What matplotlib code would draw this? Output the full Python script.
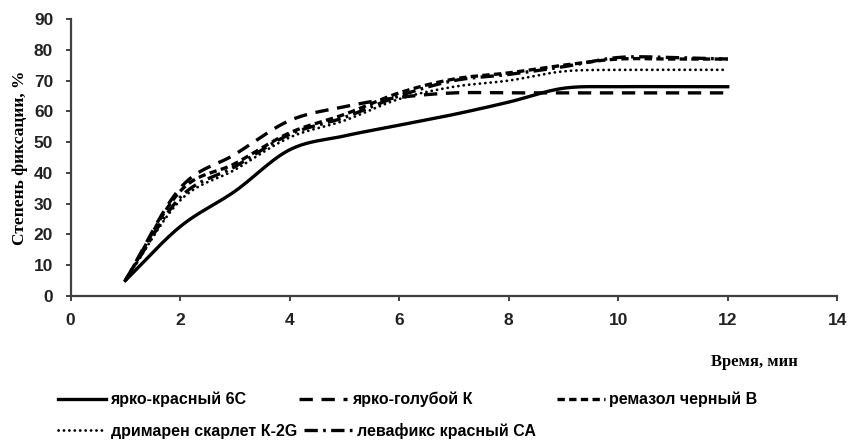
import numpy as np
import matplotlib
matplotlib.use("Agg")
import matplotlib.pyplot as plt
from matplotlib.lines import Line2D

# Time, min
minutes = [1, 2, 3, 4, 5, 6, 7, 8, 9, 10, 11, 12]

# Degree of fixation, % for each dye
yarko_krasny_6s = [5, 22.5, 34, 47.5, 52, 55.5, 59, 63, 67.5, 68, 68, 68]
yarko_goluboy_k = [5, 35, 46, 57, 61.5, 64.5, 66, 66, 66, 66, 66, 66]
remazol_cherny_v = [5, 34, 43, 53, 59, 66, 70.5, 72.5, 75, 77, 77, 77]
drimaren_skarlet = [5, 31, 41, 51.5, 57, 64, 68, 70, 73, 73.5, 73.5, 73.5]
levafiks_krasny = [5, 32, 42, 52.5, 58, 65, 70, 72, 74.5, 77.5, 77.5, 77]

series_labels = ["ярко-красный 6С", "ярко-голубой К", "ремазол черный В",
                 "дримарен скарлет К-2G", "левафикс красный СА"]

x_ticks = [0, 2, 4, 6, 8, 10, 12, 14]
y_ticks = [0, 10, 20, 30, 40, 50, 60, 70, 80, 90]


def smooth(x, y, n=24):
    """Catmull-Rom spline through the points (like a smoothed spreadsheet line)."""
    x = np.asarray(x, float)
    y = np.asarray(y, float)
    px = np.concatenate([[2 * x[0] - x[1]], x, [2 * x[-1] - x[-2]]])
    py = np.concatenate([[2 * y[0] - y[1]], y, [2 * y[-1] - y[-2]]])
    xs, ys = [], []
    t = np.linspace(0, 1, n, endpoint=False)
    for i in range(1, len(px) - 2):
        for arr, out in ((px, xs), (py, ys)):
            p0, p1, p2, p3 = arr[i - 1], arr[i], arr[i + 1], arr[i + 2]
            out.append(0.5 * ((2 * p1) + (-p0 + p2) * t
                              + (2 * p0 - 5 * p1 + 4 * p2 - p3) * t ** 2
                              + (-p0 + 3 * p1 - 3 * p2 + p3) * t ** 3))
    xs.append([x[-1]])
    ys.append([y[-1]])
    return np.concatenate(xs), np.concatenate(ys)


sans = ["Liberation Sans", "DejaVu Sans"]
serif = ["Liberation Serif", "DejaVu Serif"]

fig = plt.figure(figsize=(8.5, 4.43), dpi=100)
ax = fig.add_axes([0.083, 0.332, 0.902, 0.625])

styles = [
    dict(linestyle="-", linewidth=2.4),
    dict(linestyle=(0, (4.0, 2.6)), linewidth=2.4),
    dict(linestyle=(0, (2.2, 1.3)), linewidth=2.4),
    dict(linestyle=(0, (0.05, 1.9)), linewidth=2.0, dash_capstyle="round"),
    dict(linestyle=(0, (4.0, 1.6, 0.8, 1.6)), linewidth=2.4),
]
all_series = [yarko_krasny_6s, yarko_goluboy_k, remazol_cherny_v,
              drimaren_skarlet, levafiks_krasny]

for vals, st, lab in zip(all_series, styles, series_labels):
    sx, sy = smooth(minutes, vals)
    ax.plot(sx, sy, color="black", label=lab, **st)

ax.set_xlim(0, 14)
ax.set_ylim(0, 90)
ax.set_xticks(x_ticks)
ax.set_yticks(y_ticks)
for s in ("top", "right"):
    ax.spines[s].set_visible(False)
for s in ("left", "bottom"):
    ax.spines[s].set_color("#404040")
    ax.spines[s].set_linewidth(1.6)
ax.tick_params(axis="both", direction="out", length=3.5, width=1.4,
               color="#404040")
ax.tick_params(axis="y", pad=9)
ax.tick_params(axis="x", pad=9)
for lbl in ax.get_xticklabels() + ax.get_yticklabels():
    lbl.set_fontfamily(sans)
    lbl.set_fontweight("bold")
    lbl.set_fontsize(12.5)
    lbl.set_color("#222222")

ax.set_ylabel("Степень фиксации, %", family=serif, fontweight="bold",
              fontsize=12.5, labelpad=4)
fig.text(0.888, 0.182, "Время, мин", family=serif, fontweight="bold",
         fontsize=12, ha="center", va="center")

# Legend entries laid out in two rows beneath the plot
legend_slots = [(0.068, 0.098), (0.352, 0.098), (0.655, 0.098),
                (0.068, 0.027), (0.358, 0.027)]
for st, lab, (lx, ly) in zip(styles, series_labels, legend_slots):
    proxy = Line2D([], [], color="black", **st)
    fig.legend([proxy], [lab], loc="center left",
               bbox_to_anchor=(lx, ly), frameon=False, handlelength=3.0,
               handletextpad=0.3, borderpad=0, borderaxespad=0,
               prop=dict(family=sans, weight="bold", size=11.5))

fig.savefig("out.png", dpi=100)
